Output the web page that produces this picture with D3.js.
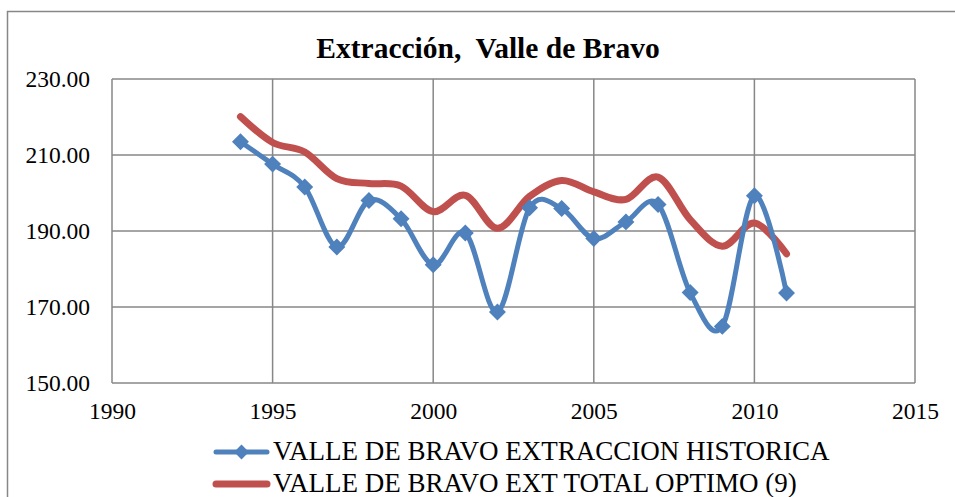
<!DOCTYPE html>
<html>
<head>
<meta charset="utf-8">
<script src="https://cdn.jsdelivr.net/npm/d3@7"></script>
<style>
  body { margin: 0; background: #fff; }
</style>
</head>
<body>
<div id="chart"></div>
<script>
const years = [1994, 1995, 1996, 1997, 1998, 1999, 2000, 2001, 2002, 2003,
  2004, 2005, 2006, 2007, 2008, 2009, 2010, 2011];
const historica = [213.5, 207.6, 201.6, 185.8, 198.0, 193.2, 181.1, 189.5, 168.7, 196.1,
  195.9, 188.0, 192.4, 197.0, 173.8, 164.9, 199.3, 173.7];
const optimo = [220.1, 213.3, 210.8, 203.8, 202.5, 201.8, 195.1, 199.4, 190.7, 199.1,
  203.3, 200.3, 198.3, 204.2, 193.0, 186.0, 192.1, 184.0];
const xTicks = [1990, 1995, 2000, 2005, 2010, 2015];
const yTicks = [150, 170, 190, 210, 230];
const seriesNames = ['VALLE DE BRAVO EXTRACCION HISTORICA', 'VALLE DE BRAVO EXT TOTAL OPTIMO (9)'];

const W = 955, H = 497;
const MARGIN = {TOP: 79, BOTTOM: 114, LEFT: 112, RIGHT: 40};
const WIDTH = W - MARGIN.LEFT - MARGIN.RIGHT;
const HEIGHT = H - MARGIN.TOP - MARGIN.BOTTOM;
const FONT = 'Liberation Serif';

const svg = d3.select('#chart').append('svg')
  .attr('width', W)
  .attr('height', H)
  .style('display', 'block');

// outer chart border
svg.append('rect')
  .attr('x', 7.5).attr('y', 11.5)
  .attr('width', 960).attr('height', 500)
  .attr('fill', 'none')
  .attr('stroke', '#878787')
  .attr('stroke-width', 1.5);

svg.append('text')
  .attr('x', 488)
  .attr('y', 58)
  .attr('text-anchor', 'middle')
  .attr('font-family', FONT)
  .attr('font-weight', 'bold')
  .attr('font-size', 29.5)
  .attr('xml:space', 'preserve')
  .style('white-space', 'pre')
  .text('Extracción,  Valle de Bravo');

const g = svg.append('g')
  .attr('transform', `translate(${MARGIN.LEFT}, ${MARGIN.TOP})`);

const x = d3.scaleLinear().domain([1990, 2015]).range([0, WIDTH]);
const y = d3.scaleLinear().domain([150, 230]).range([HEIGHT, 0]);

// grid
g.append('g').selectAll('line')
  .data(yTicks)
  .enter().append('line')
    .attr('x1', 0).attr('x2', WIDTH)
    .attr('y1', d => y(d)).attr('y2', d => y(d))
    .attr('stroke', '#878787').attr('stroke-width', 1.5);

g.append('g').selectAll('line')
  .data(xTicks)
  .enter().append('line')
    .attr('x1', d => x(d)).attr('x2', d => x(d))
    .attr('y1', 0).attr('y2', HEIGHT)
    .attr('stroke', '#878787').attr('stroke-width', 1.5);

// axes
const yAxisCall = d3.axisLeft(y).tickValues(yTicks).tickFormat(d3.format('.2f')).tickSize(0).tickPadding(22);
const yAxisGroup = g.append('g').call(yAxisCall)
  .attr('font-family', FONT).attr('font-size', 23.5);
yAxisGroup.select('.domain').remove();
yAxisGroup.selectAll('text')
  .attr('font-family', FONT)
  .attr('font-size', 23.5).attr('fill', '#000');

const xAxisCall = d3.axisBottom(x).tickValues(xTicks).tickFormat(d3.format('d')).tickSize(0).tickPadding(19);
const xAxisGroup = g.append('g')
  .attr('transform', `translate(0, ${HEIGHT})`)
  .call(xAxisCall)
  .attr('font-family', FONT).attr('font-size', 23.5);
xAxisGroup.select('.domain').remove();
xAxisGroup.selectAll('text')
  .attr('font-family', FONT)
  .attr('font-size', 23.5).attr('fill', '#000');

const line = d3.line()
  .x(d => x(d[0]))
  .y(d => y(d[1]))
  .curve(d3.curveCardinal.tension(0));

g.append('path')
  .datum(years.map((yr, i) => [yr, optimo[i]]))
  .attr('d', line)
  .attr('fill', 'none')
  .attr('stroke', '#C0504D')
  .attr('stroke-width', 7)
  .attr('stroke-linecap', 'round');

const histData = years.map((yr, i) => [yr, historica[i]]);
g.append('path')
  .datum(histData)
  .attr('d', line)
  .attr('fill', 'none')
  .attr('stroke', '#4F81BD')
  .attr('stroke-width', 5)
  .attr('stroke-linecap', 'round');

const diamond = d3.symbol().type(d3.symbolSquare).size(110);
g.selectAll('path.marker')
  .data(histData)
  .enter().append('path')
    .attr('class', 'marker')
    .attr('d', diamond)
    .attr('transform', d => `translate(${x(d[0])}, ${y(d[1])}) rotate(45)`)
    .attr('fill', '#4F81BD')
    .attr('stroke', '#4F81BD')
    .attr('stroke-width', 1.5);

// legend
const legend = svg.append('g');
const legendRows = [
  {name: seriesNames[0], color: '#4F81BD', width: 5, marker: true, yPos: 452},
  {name: seriesNames[1], color: '#C0504D', width: 7, marker: false, yPos: 484}
];
legendRows.forEach(r => {
  legend.append('line')
    .attr('x1', 216).attr('x2', 267)
    .attr('y1', r.yPos).attr('y2', r.yPos)
    .attr('stroke', r.color).attr('stroke-width', r.width)
    .attr('stroke-linecap', 'round');
  if (r.marker) {
    legend.append('path')
      .attr('d', diamond)
      .attr('transform', `translate(241.5, ${r.yPos}) rotate(45)`)
      .attr('fill', r.color);
  }
  legend.append('text')
    .attr('x', 273)
    .attr('y', r.yPos + 8)
    .attr('font-family', FONT)
    .attr('font-size', 27)
    .text(r.name);
});
</script>
</body>
</html>
